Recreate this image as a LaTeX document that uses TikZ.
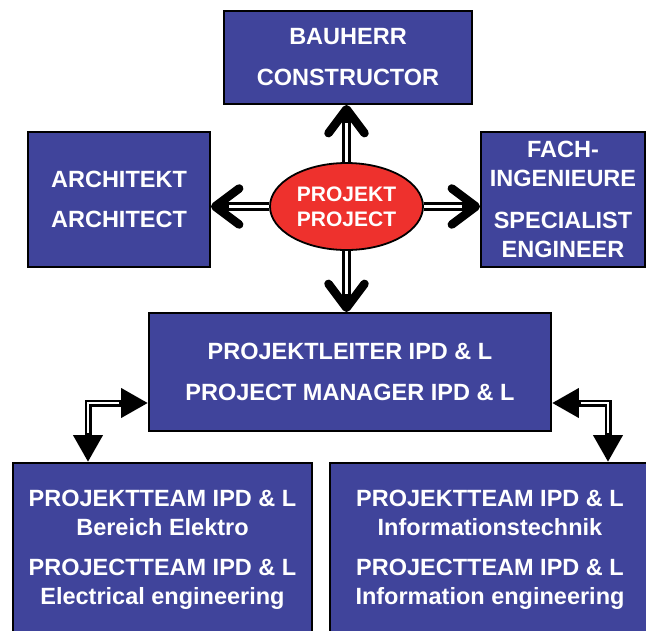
\documentclass[tikz,border=0pt]{standalone}
\usepackage{fontspec}
\setmainfont{Liberation Sans}
\usetikzlibrary{arrows.meta,shapes.geometric}
\definecolor{boxblue}{RGB}{64,68,155}
\definecolor{projred}{RGB}{238,49,45}

\begin{document}
\begin{tikzpicture}[x=1pt, y=-1pt,
		box/.style={draw=black, line width=1.8pt, fill=boxblue, text=white, inner sep=0pt, align=center, font=\fontsize{23.5}{29}\selectfont\bfseries},
		bigarrow/.style={draw, line width=9pt, -{Straight Barb[length=24pt, width=36pt, line width=8.5pt, round]}, postaction={draw=white, line width=3pt, -, shorten >=18pt}},
		smallarrow/.style={draw, line width=7pt, {Triangle[length=27pt, width=28pt]}-{Triangle[length=27pt, width=28pt]}, postaction={draw=white, line width=2pt, -, shorten <=29pt, shorten >=29pt}}]
			%%%%% START %%%%%
			
			\useasboundingbox (0, 0) rectangle (646, 630);
			\clip (0, 0) rectangle (646, 630);
			
			\node[box, minimum width=248pt, minimum height=93pt] (bau) at (348, 57.5) {BAUHERR\\[12pt]CONSTRUCTOR};
			\node[box, minimum width=182pt, minimum height=135pt] (arch) at (119, 199.5) {ARCHITEKT\\[11pt]ARCHITECT};
			\node[box, minimum width=164pt, minimum height=135pt] (fach) at (563, 199.5) {FACH-\\INGENIEURE\\[13pt]SPECIALIST\\ENGINEER};
			
			\node[draw=black, line width=1.8pt, fill=projred, text=white, ellipse, inner sep=0pt, minimum width=153pt, minimum height=87pt, align=center, font=\fontsize{21}{25}\selectfont\bfseries] (proj) at (346.5, 206.5) {PROJEKT\\PROJECT};
			
			\node[box, minimum width=402pt, minimum height=118pt] (mgr) at (350, 372) {PROJEKTLEITER IPD \& L\\[12pt]PROJECT MANAGER IPD \& L};
			
			\node[box, minimum width=299pt, minimum height=174pt] (teamL) at (162.5, 550) {PROJEKTTEAM IPD \& L\\Bereich Elektro\\[11pt]PROJECTTEAM IPD \& L\\Electrical engineering};
			\node[box, minimum width=320pt, minimum height=174pt] (teamR) at (490, 550) {PROJEKTTEAM IPD \& L\\Informationstechnik\\[11pt]PROJECTTEAM IPD \& L\\Information engineering};
			
			% arrows out of the project
			\draw[bigarrow] (proj.north) -- (proj.north |- bau.south);
			\draw[bigarrow] (proj.west) -- (arch.east |- proj.west);
			\draw[bigarrow] (proj.east) -- (fach.west |- proj.east);
			\draw[bigarrow] (proj.south) -- (proj.south |- mgr.north);
			
			% manager to the teams
			\coordinate (cornerL) at (88, 403);
			\coordinate (cornerR) at (608, 403);
			\draw[smallarrow] (mgr.west |- cornerL) -- (cornerL) -- (cornerL |- teamL.north);
			\draw[smallarrow] (mgr.east |- cornerR) -- (cornerR) -- (cornerR |- teamR.north);
			
			%%%%% END %%%%%
		\end{tikzpicture}
\end{document}
